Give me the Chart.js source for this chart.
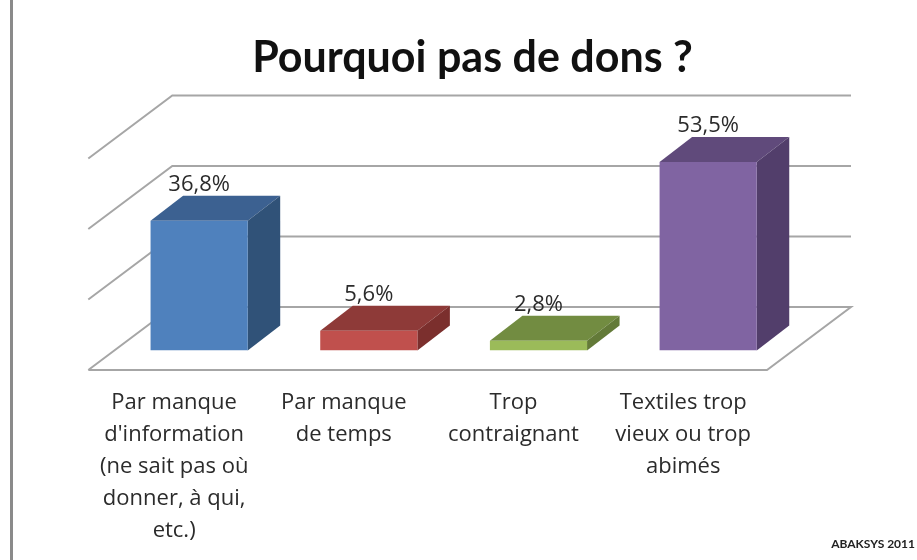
<!DOCTYPE html>
<html lang="fr">
<head>
<meta charset="utf-8">
<title>Pourquoi pas de dons ?</title>
<script src="https://cdn.jsdelivr.net/npm/chart.js@4"></script>
<style>
    html, body { margin: 0; padding: 0; background: #fff; }
    #wrap { position: relative; width: 917px; height: 560px; overflow: hidden; }
    #chart { display: block; filter: blur(0.5px); }
    #edge { position: absolute; left: 10px; top: 0; width: 3px; height: 560px; background: #8a8a8a; }
    #credit { position: absolute; right: 2px; top: 536px; font: bold 12px Lato, sans-serif; color: #222; }
</style>
</head>
<body>
<div id="wrap">
    <canvas id="chart" width="917" height="560"></canvas>
    <div id="edge"></div>
    <div id="credit">ABAKSYS 2011</div>
</div>
<script>
const categories = [
    ["Par manque", "d'information", "(ne sait pas où", "donner, à qui,", "etc.)"],
    ["Par manque", "de temps"],
    ["Trop", "contraignant"],
    ["Textiles trop", "vieux ou trop", "abimés"]
];
const values = [36.8, 5.6, 2.8, 53.5];
const frontColors = ["#4f81bd", "#c0504d", "#9bbb59", "#8064a2"];
const topColors = ["#3c6191", "#8e3a38", "#728c41", "#604a7b"];
const sideColors = ["#305278", "#7b2f2d", "#637a38", "#523e6b"];

// the fake 3D box: floor depth and how far the bars sit from the front edge
const floorDepth = { x: 84, y: 63 };
const barDepth = { x: 32.5, y: 25 };
const barInset = { x: 26, y: 19.5 };

function face(ctx, points, color) {
    ctx.fillStyle = color;
    ctx.beginPath();
    points.forEach((p, i) => i ? ctx.lineTo(p[0], p[1]) : ctx.moveTo(p[0], p[1]));
    ctx.closePath();
    ctx.fill();
}

const box3d = {
    id: "box3d",
    afterLayout(chart) {
        // title is centred on the picture, not on the plot
        chart.titleBlock.left = 28;
        chart.titleBlock.right = 917;
    },
    beforeDatasetsDraw(chart) {
        const ctx = chart.ctx;
        const { left, right } = chart.chartArea;
        const yScale = chart.scales.y;
        const x0 = left - barInset.x;
        const x1 = right - barInset.x;

        ctx.save();
        ctx.strokeStyle = "#a6a6a6";
        ctx.lineWidth = 2;
        yScale.ticks.forEach(t => {
            const y = yScale.getPixelForValue(t.value) + barInset.y;
            ctx.beginPath();
            ctx.moveTo(x0, y);
            ctx.lineTo(x0 + floorDepth.x, y - floorDepth.y);
            ctx.lineTo(x1 + floorDepth.x, y - floorDepth.y);
            if (t.value === 0) {
                ctx.lineTo(x1, y);
                ctx.lineTo(x0, y);
            }
            ctx.stroke();
        });

        chart.getDatasetMeta(0).data.forEach((bar, i) => {
            const l = bar.x - bar.width / 2;
            const r = bar.x + bar.width / 2;
            const d = barDepth;
            face(ctx, [[l, bar.y], [r, bar.y], [r + d.x, bar.y - d.y], [l + d.x, bar.y - d.y]], topColors[i]);
            face(ctx, [[r, bar.y], [r + d.x, bar.y - d.y], [r + d.x, bar.base - d.y], [r, bar.base]], sideColors[i]);
        });
        ctx.restore();
    },
    afterDatasetsDraw(chart) {
        const ctx = chart.ctx;
        ctx.save();
        ctx.font = "22px 'Open Sans', sans-serif";
        ctx.fillStyle = "#2b2b2b";
        ctx.textAlign = "center";
        ctx.textBaseline = "middle";
        chart.getDatasetMeta(0).data.forEach((bar, i) => {
            ctx.fillText(values[i].toFixed(1).replace(".", ",") + "%", bar.x, bar.y - 36);
        });
        ctx.restore();
    }
};

new Chart(document.getElementById("chart"), {
    type: "bar",
    data: {
        labels: categories,
        datasets: [{
            data: values,
            backgroundColor: frontColors,
            barPercentage: 0.5726,
            categoryPercentage: 1
        }]
    },
    options: {
        responsive: false,
        animation: false,
        layout: { padding: { left: 114.3, right: 124, top: 0, bottom: 0 } },
        plugins: {
            legend: { display: false },
            tooltip: { enabled: false },
            title: {
                display: true,
                text: "Pourquoi pas de dons ?",
                color: "#111",
                font: { family: "Lato, sans-serif", size: 43, weight: "bold", lineHeight: 1.2 },
                padding: { top: 32, bottom: 55.4 }
            }
        },
        scales: {
            x: {
                grid: { display: false },
                border: { display: false },
                afterFit: s => { s.height = 209.5; },
                ticks: {
                    autoSkip: false,
                    maxRotation: 0,
                    labelOffset: -25,
                    padding: 28.5,
                    color: "#2b2b2b",
                    font: { family: "'Open Sans', sans-serif", size: 22, lineHeight: 1.4545 }
                }
            },
            y: {
                display: false,
                min: 0,
                max: 60,
                ticks: { stepSize: 20 }
            }
        }
    },
    plugins: [box3d]
});
</script>
</body>
</html>
